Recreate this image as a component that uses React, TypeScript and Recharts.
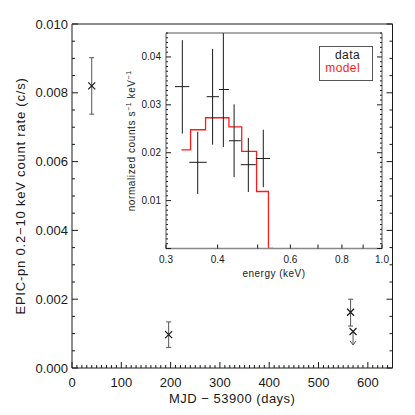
import { ComposedChart, Scatter, Line, XAxis, YAxis, ErrorBar, Legend, Label } from 'recharts';

const FONT = '"Liberation Sans", Arial, Helvetica, sans-serif';
const INK = '#1a1a1a';

// light curve: days since MJD 53900 vs EPIC-pn 0.2-10 keV count rate
const epochDays = [40, 196, 565];
const rate = [0.0082, 0.00097, 0.00162];
const rateLow = [0.00738, 0.0006, 0.00122];
const rateHigh = [0.00902, 0.00134, 0.002];

// upper limit (drawn with a downward arrow)
const limitDays = [570];
const limitRate = [0.00106];
const limitArrowTo = [0.00067];

// spectrum inset (energy bins in keV)
const binCenter = [0.3286, 0.358, 0.389, 0.413, 0.4385, 0.4747, 0.516];
const binLow = [0.3155, 0.3416, 0.3764, 0.403, 0.426, 0.455, 0.495];
const binHigh = [0.3416, 0.3764, 0.403, 0.426, 0.455, 0.495, 0.536];
const counts = [0.0338, 0.018, 0.0317, 0.0332, 0.0225, 0.0175, 0.0188];
const countsLow = [0.024, 0.0114, 0.0217, 0.0212, 0.0149, 0.0118, 0.0128];
const countsHigh = [0.0435, 0.0244, 0.0417, 0.045, 0.0301, 0.0231, 0.0248];

const modelEdges = [0.327, 0.344, 0.374, 0.426, 0.4575, 0.497, 0.531, 0.545];
const modelLevel = [0.0206, 0.0248, 0.0273, 0.0254, 0.0203, 0.0119, 0, 0];

// ticks
const mainXTicks = Array.from({ length: 66 }, (_, i) => i * 10);
const mainYTicks = Array.from({ length: 21 }, (_, i) => Number((i * 0.0005).toFixed(4)));
const insetXTicks = [0.3, 0.4, 0.5, 0.6, 0.7, 0.8, 0.9, 1.0];
const insetXLabels = [0.3, 0.4, 0.6, 0.8, 1.0];
const insetYTicks = Array.from({ length: 46 }, (_, i) => Number((i * 0.001).toFixed(3)));

const lightData = epochDays.map((d, i) => ({
  mjd: d,
  rate: rate[i],
  err: [rate[i] - rateLow[i], rateHigh[i] - rate[i]],
}));
const limitData = limitDays.map((d, i) => ({
  mjd: d,
  rate: limitRate[i],
  err: [limitRate[i] - limitArrowTo[i], 0],
}));
const arrowData = limitDays.map((d, i) => ({ mjd: d, rate: limitArrowTo[i] }));

const specData = binCenter.map((e, i) => ({
  energy: e,
  counts: counts[i],
  xErr: [e - binLow[i], binHigh[i] - e],
  yErr: [counts[i] - countsLow[i], countsHigh[i] - counts[i]],
}));
const modelData = modelEdges.map((e, i) => ({ energy: e, counts: modelLevel[i] }));

type Side = 'bottom' | 'top' | 'left' | 'right';

// inward-pointing IDL style ticks, labels outside
const makeTick =
  (side: Side, isMajor: (v: number) => boolean, majorLen: number, minorLen: number,
    label: ((v: number) => string | null) | null, fontSize = 13, gap = 4) =>
  (p: any) => {
    const { x, y } = p;
    const v = p.payload.value;
    const len = isMajor(v) ? majorLen : minorLen;
    let x2 = x;
    let y2 = y;
    if (side === 'bottom') y2 = y - len;
    if (side === 'top') y2 = y + len;
    if (side === 'left') x2 = x + len;
    if (side === 'right') x2 = x - len;
    const txt = label ? label(v) : null;
    return (
      <g>
        <line x1={x} y1={y} x2={x2} y2={y2} stroke={INK} strokeWidth={1} />
        {txt !== null && side === 'bottom' && (
          <text x={x} y={y + gap} textAnchor="middle" fontSize={fontSize} fontFamily={FONT} fill={INK}>
            {txt}
          </text>
        )}
        {txt !== null && side === 'left' && (
          <text x={x - gap} y={y} dy="0.35em" textAnchor="end" fontSize={fontSize} fontFamily={FONT} fill={INK}>
            {txt}
          </text>
        )}
      </g>
    );
  };

const majorX = (v: number) => v % 100 === 0;
const majorY = (v: number) => Math.round(v / 0.0005) % 4 === 0;
const majorInsetY = (v: number) => Math.round(v * 1000) % 10 === 0;

const XMark = (props: any) => {
  const { cx, cy } = props;
  if (cx == null || cy == null) return <g />;
  const s = 3.5;
  return (
    <path
      d={`M${cx - s},${cy - s}L${cx + s},${cy + s}M${cx - s},${cy + s}L${cx + s},${cy - s}`}
      stroke={INK}
      strokeWidth={1.2}
      fill="none"
    />
  );
};

const ArrowHead = (props: any) => {
  const { cx, cy } = props;
  if (cx == null || cy == null) return <g />;
  return <path d={`M${cx - 3},${cy - 4}L${cx},${cy}L${cx + 3},${cy - 4}`} stroke="#555" strokeWidth={1} fill="none" />;
};

const NoShape = () => <g />;

const InsetLegend = (props: any) => {
  const entries = [...(props.payload ?? [])].sort((a: any, b: any) =>
    a.value === 'data' ? -1 : b.value === 'data' ? 1 : 0
  );
  return (
    <div
      style={{
        boxSizing: 'border-box',
        width: 54,
        height: 35,
        border: '1px solid #555',
        padding: '2px 12px 0 0',
        textAlign: 'right',
        fontFamily: FONT,
        fontSize: 12,
        lineHeight: '13px',
        letterSpacing: 0.4,
      }}
    >
      {entries.map((e: any) => (
        <div key={e.value} style={{ color: e.color }}>
          {e.value}
        </div>
      ))}
    </div>
  );
};

export default function App() {
  return (
    <div style={{ position: 'absolute', left: 0, top: 0, width: 415, height: 415, background: '#fff' }}>
      <div style={{ position: 'absolute', left: 0, top: 0 }}>
        <ComposedChart width={415} height={415} margin={{ top: 23, right: 21.5, bottom: 17, left: 12 }}>
          <XAxis
            xAxisId="main"
            type="number"
            dataKey="mjd"
            domain={[0, 650]}
            allowDataOverflow
            ticks={mainXTicks}
            interval={0}
            height={30}
            tickSize={0}
            tickMargin={0}
            tickLine={false}
            axisLine={{ stroke: INK }}
            tick={makeTick('bottom', majorX, 6, 3, (v) => (majorX(v) && v <= 600 ? String(v) : null), 13, 19)}
          >
            <Label
              content={(p: any) => {
                const vb = p.viewBox;
                return (
                  <text x={vb.x + vb.width / 2} y={vb.y + 35} textAnchor="middle" fontSize={13} letterSpacing={0.5} fontFamily={FONT} fill={INK}>
                    MJD − 53900 (days)
                  </text>
                );
              }}
            />
          </XAxis>
          <XAxis
            xAxisId="top"
            orientation="top"
            type="number"
            domain={[0, 650]}
            allowDataOverflow
            ticks={mainXTicks}
            interval={0}
            height={1}
            tickSize={0}
            tickMargin={0}
            tickLine={false}
            axisLine={{ stroke: INK }}
            tick={makeTick('top', majorX, 6, 3, null)}
          />
          <YAxis
            yAxisId="main"
            type="number"
            dataKey="rate"
            domain={[0, 0.01]}
            allowDataOverflow
            ticks={mainYTicks}
            interval={0}
            width={60}
            tickSize={0}
            tickMargin={0}
            tickLine={false}
            axisLine={{ stroke: INK }}
            tick={makeTick('left', majorY, 6, 3, (v) => (majorY(v) ? v.toFixed(3) : null), 13, 4)}
          >
            <Label
              content={(p: any) => {
                const vb = p.viewBox;
                const cx = vb.x + vb.width - 52;
                const cy = vb.y + vb.height / 2;
                return (
                  <text
                    transform={`translate(${cx},${cy}) rotate(-90)`}
                    textAnchor="middle"
                    dy="0.35em"
                    fontSize={13}
                    letterSpacing={0.8}
                    fontFamily={FONT}
                    fill={INK}
                  >
                    EPIC-pn 0.2−10 keV count rate (c/s)
                  </text>
                );
              }}
            />
          </YAxis>
          <YAxis
            yAxisId="right"
            orientation="right"
            type="number"
            domain={[0, 0.01]}
            allowDataOverflow
            ticks={mainYTicks}
            interval={0}
            width={1}
            tickSize={0}
            tickMargin={0}
            tickLine={false}
            axisLine={{ stroke: INK }}
            tick={makeTick('right', majorY, 6, 3, null)}
          />
          <Scatter xAxisId="main" yAxisId="main" data={lightData} shape={XMark} fill={INK} isAnimationActive={false}>
            <ErrorBar dataKey="err" direction="y" width={2.5} stroke="#555" strokeWidth={1} isAnimationActive={false} />
          </Scatter>
          <Scatter xAxisId="main" yAxisId="main" data={limitData} shape={XMark} fill={INK} isAnimationActive={false}>
            <ErrorBar dataKey="err" direction="y" width={0} stroke="#555" strokeWidth={1} isAnimationActive={false} />
          </Scatter>
          <Scatter xAxisId="main" yAxisId="main" data={arrowData} shape={ArrowHead} isAnimationActive={false} />
        </ComposedChart>
      </div>

      <div style={{ position: 'absolute', left: 0, top: 0 }}>
        <ComposedChart width={415} height={415} margin={{ top: 32, right: 32, bottom: 136.5, left: 126 }}>
          <XAxis
            xAxisId="e"
            type="number"
            scale="log"
            dataKey="energy"
            domain={[0.3, 1.0]}
            allowDataOverflow
            ticks={insetXTicks}
            interval={0}
            height={30}
            tickSize={0}
            tickMargin={0}
            tickLine={false}
            axisLine={{ stroke: '#888', strokeWidth: 1.5 }}
            tick={makeTick('bottom', () => true, 4, 4, (v) => (insetXLabels.some((l) => Math.abs(l - v) < 1e-6) ? v.toFixed(1) : null), 10, 14.5)}
          >
            <Label
              content={(p: any) => {
                const vb = p.viewBox;
                return (
                  <text x={vb.x + vb.width / 2} y={vb.y + 28} textAnchor="middle" fontSize={10} letterSpacing={0.5} fontFamily={FONT} fill={INK}>
                    energy (keV)
                  </text>
                );
              }}
            />
          </XAxis>
          <XAxis
            xAxisId="etop"
            orientation="top"
            type="number"
            scale="log"
            domain={[0.3, 1.0]}
            allowDataOverflow
            ticks={insetXTicks}
            interval={0}
            height={1}
            tickSize={0}
            tickMargin={0}
            tickLine={false}
            axisLine={{ stroke: '#555' }}
            tick={makeTick('top', () => true, 4, 4, null)}
          />
          <YAxis
            yAxisId="c"
            type="number"
            dataKey="counts"
            domain={[0, 0.045]}
            allowDataOverflow
            ticks={insetYTicks}
            interval={0}
            width={40}
            tickSize={0}
            tickMargin={0}
            tickLine={false}
            axisLine={{ stroke: '#555' }}
            tick={makeTick('left', majorInsetY, 5, 2, (v) => (majorInsetY(v) && v > 0 ? v.toFixed(2) : null), 10, 5)}
          >
            <Label
              content={(p: any) => {
                const vb = p.viewBox;
                const cx = vb.x + vb.width - 35;
                const cy = vb.y + vb.height / 2;
                return (
                  <text
                    transform={`translate(${cx},${cy}) rotate(-90)`}
                    textAnchor="middle"
                    dy="0.35em"
                    fontSize={10}
                    letterSpacing={0.6}
                    fontFamily={FONT}
                    fill={INK}
                  >
                    normalized counts s
                    <tspan dy={-4} fontSize={7}>−1</tspan>
                    <tspan dy={4}> keV</tspan>
                    <tspan dy={-4} fontSize={7}>−1</tspan>
                  </text>
                );
              }}
            />
          </YAxis>
          <YAxis
            yAxisId="cright"
            orientation="right"
            type="number"
            domain={[0, 0.045]}
            allowDataOverflow
            ticks={insetYTicks}
            interval={0}
            width={1}
            tickSize={0}
            tickMargin={0}
            tickLine={false}
            axisLine={{ stroke: '#555' }}
            tick={makeTick('right', majorInsetY, 5, 2, null)}
          />
          <Line
            xAxisId="e"
            yAxisId="c"
            data={modelData}
            dataKey="counts"
            name="model"
            type="stepAfter"
            stroke="#ff1a1a"
            strokeWidth={1.3}
            dot={false}
            activeDot={false}
            isAnimationActive={false}
          />
          <Scatter xAxisId="e" yAxisId="c" data={specData} name="data" fill={INK} shape={NoShape} isAnimationActive={false}>
            <ErrorBar dataKey="xErr" direction="x" width={0} stroke={INK} strokeWidth={1} isAnimationActive={false} />
            <ErrorBar dataKey="yErr" direction="y" width={0} stroke={INK} strokeWidth={1} isAnimationActive={false} />
          </Scatter>
          <Legend
            layout="horizontal"
            verticalAlign="middle"
            align="center"
            content={InsetLegend}
            wrapperStyle={{ left: 319, top: 46, width: 54, height: 35 }}
          />
        </ComposedChart>
      </div>
    </div>
  );
}
